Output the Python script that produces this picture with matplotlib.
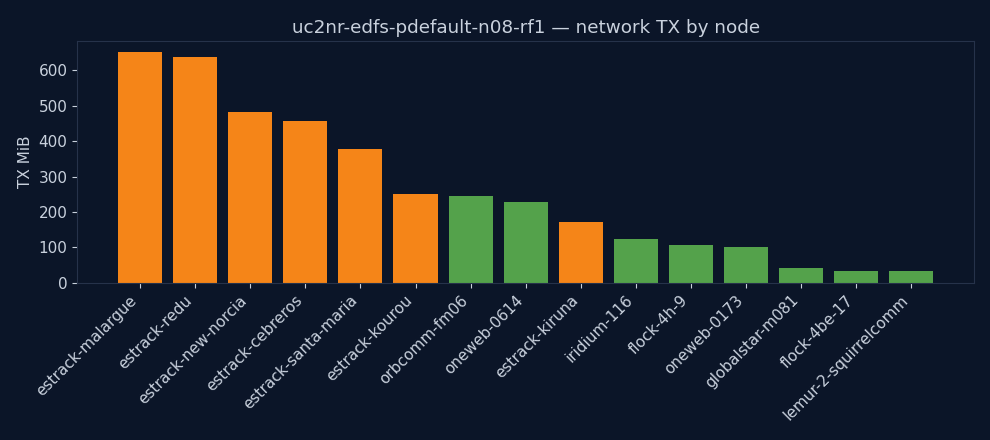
import matplotlib
matplotlib.use("Agg")
import matplotlib.pyplot as plt

# node names, TX volume and node kind (ground station vs satellite)
nodes = ["estrack-malargue", "estrack-redu", "estrack-new-norcia", "estrack-cebreros",
         "estrack-santa-maria", "estrack-kourou", "orbcomm-fm06", "oneweb-0614",
         "estrack-kiruna", "iridium-116", "flock-4h-9", "oneweb-0173",
         "globalstar-m081", "flock-4be-17", "lemur-2-squirrelcomm"]
tx_mib = [650, 636, 483, 458, 379, 252, 244, 227, 173, 125, 108, 102, 43, 35, 35]
is_ground = [True, True, True, True, True, True, False, False,
             True, False, False, False, False, False, False]

BG = "#0b1528"
FG = "#c9d1dd"
SPINE = "#26324a"
ORANGE = "#f58518"
GREEN = "#54a24b"

fig, ax = plt.subplots(figsize=(9.9, 4.4), dpi=100)
fig.patch.set_facecolor(BG)
ax.set_facecolor(BG)

colors = [ORANGE if g else GREEN for g in is_ground]
ax.bar(range(len(nodes)), tx_mib, color=colors, width=0.8)

ax.set_xticks(range(len(nodes)))
ax.set_xticklabels(nodes, rotation=45, ha="right", fontsize=11)
ax.set_ylabel("TX MiB", color=FG, fontsize=11)
ax.set_title("uc2nr-edfs-pdefault-n08-rf1 — network TX by node", color=FG, fontsize=13.2)

ax.tick_params(colors=FG, labelsize=11)
for s in ax.spines.values():
    s.set_color(SPINE)

fig.subplots_adjust(left=0.078, right=0.984, top=0.907, bottom=0.357)
fig.savefig("out.png", dpi=100, facecolor=BG)
